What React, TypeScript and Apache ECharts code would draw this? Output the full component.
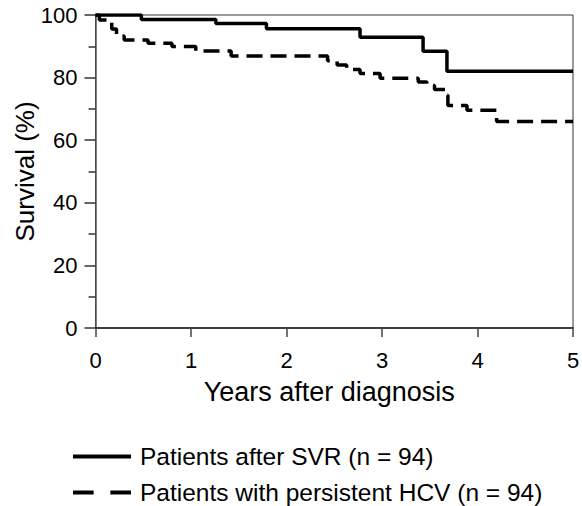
import React, { useEffect, useRef } from "react";
import * as echarts from "echarts";

// Kaplan–Meier steps (years, survival %)
const svrTimes = [0, 0.48, 1.26, 1.79, 2.77, 3.43, 3.68, 5.0];
const svrSurvival = [100, 98.6, 97.3, 95.6, 92.9, 88.4, 82.0, 82.0];

const hcvTimes = [0, 0.04, 0.17, 0.22, 0.3, 0.55, 0.8, 1.05, 1.42, 2.43, 2.53, 2.63, 2.77, 2.98, 3.38, 3.47, 3.55, 3.66, 3.69, 3.89, 4.2, 5.0];
const hcvSurvival = [100, 98.4, 95.5, 93.3, 92.0, 91.0, 89.9, 88.5, 86.9, 85.4, 84.0, 82.6, 81.3, 79.8, 78.6, 77.5, 76.2, 74.4, 71.1, 69.6, 66.0, 66.0];

const xTicks = [0, 1, 2, 3, 4, 5];
const yTicks = [0, 20, 40, 60, 80, 100];

const seriesNames = ["Patients after SVR (n = 94)", "Patients with persistent HCV (n = 94)"];
const xTitle = "Years after diagnosis";
const yTitle = "Survival (%)";

const FONT = "'Liberation Sans', Arial, sans-serif";

export default function App() {
  const ref = useRef<HTMLDivElement>(null);
  useEffect(() => {
    if (!ref.current) return;
    const chart = echarts.init(ref.current, undefined, { renderer: "svg" });
    const svrData = svrTimes.map((t, i) => [t, svrSurvival[i]]);
    const hcvData = hcvTimes.map((t, i) => [t, hcvSurvival[i]]);
    const legendText = { fontFamily: FONT, fontSize: 24.5, color: "#000", lineHeight: 24, padding: [0, 0, 0, 4] };
    chart.setOption({
      animation: false,
      backgroundColor: "#fff",
      textStyle: { fontFamily: FONT, color: "#000" },
      grid: {
        left: 95.5,
        top: 15,
        width: 477.5,
        height: 313,
        show: true,
        borderColor: "#333",
        borderWidth: 1,
        backgroundColor: "transparent",
        containLabel: false,
        outerBoundsMode: "none",
      },
      legend: [
        {
          orient: "vertical",
          left: 68,
          top: 439,
          itemWidth: 58,
          itemHeight: 4,
          textStyle: legendText,
          data: [{ name: seriesNames[0], icon: "rect", itemStyle: { color: "#000" } }],
        },
        {
          orient: "vertical",
          left: 68,
          top: 475,
          itemWidth: 58,
          itemHeight: 4,
          textStyle: legendText,
          data: [
            {
              name: seriesNames[1],
              icon: "path://M0,0H21V4H0Z M38,0H59V4H38Z",
              itemStyle: { color: "#000" },
            },
          ],
        },
      ],
      xAxis: {
        type: "value",
        min: xTicks[0],
        max: xTicks[xTicks.length - 1],
        interval: 1,
        name: xTitle,
        nameLocation: "middle",
        nameGap: 50,
        nameMoveOverlap: false,
        nameTextStyle: { fontFamily: FONT, fontSize: 27, color: "#000", padding: [0, 10, 0, 0] },
        axisLine: { show: true, onZero: false, lineStyle: { color: "#222", width: 1.5 } },
        axisTick: { show: true, length: 9, lineStyle: { color: "#444", width: 1.5 } },
        axisLabel: { fontFamily: FONT, fontSize: 22, color: "#000", margin: 21 },
        splitLine: { show: false },
      },
      yAxis: {
        type: "value",
        min: yTicks[0],
        max: yTicks[yTicks.length - 1],
        interval: 20,
        name: yTitle,
        nameLocation: "middle",
        nameGap: 58,
        nameRotate: 90,
        nameMoveOverlap: false,
        nameTextStyle: { fontFamily: FONT, fontSize: 26, color: "#000" },
        axisLine: { show: true, onZero: false, lineStyle: { color: "#555", width: 1.5 } },
        axisTick: { show: true, length: 11, lineStyle: { color: "#333", width: 1.5 } },
        minorTick: { show: true, splitNumber: 2, length: 7, lineStyle: { color: "#333", width: 1.5 } },
        axisLabel: { fontFamily: FONT, fontSize: 22, color: "#000", margin: 18 },
        splitLine: { show: false },
        minorSplitLine: { show: false },
      },
      series: [
        {
          name: seriesNames[0],
          type: "line",
          step: "end",
          symbol: "none",
          data: svrData,
          lineStyle: { color: "#000", width: 3.5, type: "solid" },
          itemStyle: { color: "#000" },
          z: 3,
        },
        {
          name: seriesNames[1],
          type: "line",
          step: "end",
          symbol: "none",
          data: hcvData,
          lineStyle: { color: "#000", width: 3.5, type: [16, 8] },
          itemStyle: { color: "#000" },
          z: 3,
        },
      ],
    });
    return () => chart.dispose();
  }, []);
  return (
    <div
      ref={ref}
      style={{ position: "fixed", left: 0, top: 0, width: 582, height: 506, background: "#fff" }}
    />
  );
}
